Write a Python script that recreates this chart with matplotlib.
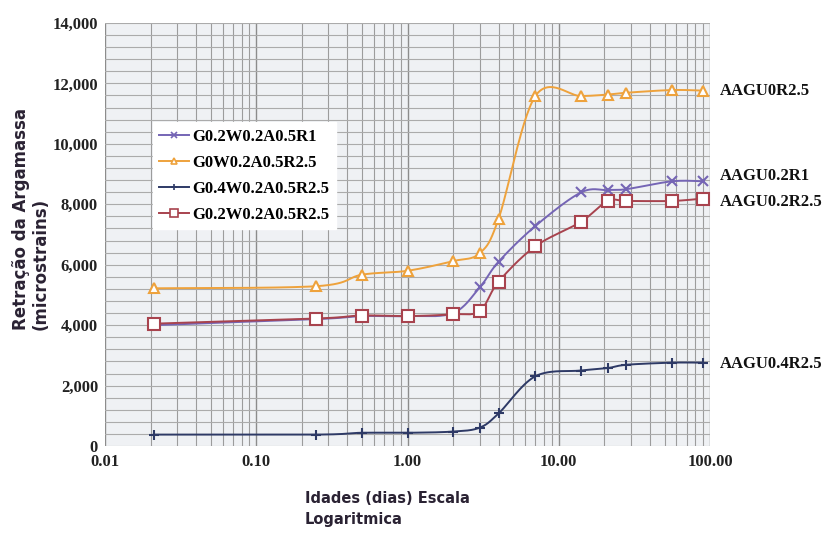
import numpy as np
import matplotlib
matplotlib.use('Agg')
import matplotlib.pyplot as plt
from matplotlib.ticker import FixedLocator, MultipleLocator, LogLocator, NullFormatter

# Idades (dias)
idades = [0.021, 0.25, 0.5, 1, 2, 3, 4, 7, 14, 21, 28, 56, 90]

# Retração (microstrains) por mistura
g02_r1 = [4000, 4200, 4300, 4300, 4400, 5250, 6100, 7280, 8390, 8470, 8500, 8760, 8760]
g0_r25 = [5220, 5290, 5670, 5800, 6120, 6380, 7520, 11580, 11580, 11630, 11690, 11780, 11760]
g04_r25 = [380, 380, 440, 440, 480, 610, 1080, 2310, 2500, 2580, 2690, 2760, 2760]
g02_r25 = [4050, 4220, 4320, 4300, 4360, 4470, 5440, 6610, 7420, 8110, 8110, 8110, 8190]

nomes = ['G0.2W0.2A0.5R1', 'G0W0.2A0.5R2.5', 'G0.4W0.2A0.5R2.5', 'G0.2W0.2A0.5R2.5']
rotulos = ['AAGU0.2R1', 'AAGU0R2.5', 'AAGU0.4R2.5', 'AAGU0.2R2.5']
yticks = [0, 2000, 4000, 6000, 8000, 10000, 12000, 14000]
xticks = [0.01, 0.1, 1, 10, 100]


def suavizar(x, y, n=30):
    # curva suave tipo Excel (Catmull-Rom em espaço de pixels aproximado)
    u = np.log10(np.array(x, dtype=float)) * 150.0
    v = np.array(y, dtype=float) / 33.3
    p = np.column_stack([u, v])
    p = np.vstack([p[0], p, p[-1]])
    xs, ys = [], []
    t = np.linspace(0, 1, n)[:, None]
    for i in range(1, len(p) - 2):
        p0, p3 = p[i], p[i + 1]
        p1 = p0 + (p[i + 1] - p[i - 1]) / 6.0
        p2 = p3 - (p[i + 2] - p[i]) / 6.0
        b = ((1 - t) ** 3) * p0 + 3 * ((1 - t) ** 2) * t * p1 + 3 * (1 - t) * t ** 2 * p2 + t ** 3 * p3
        xs.append(b[:, 0])
        ys.append(b[:, 1])
    xs = np.concatenate(xs)
    ys = np.concatenate(ys)
    return 10 ** (xs / 150.0), ys * 33.3


fig = plt.figure(figsize=(8.24, 5.46), dpi=100)
ax = fig.add_axes([0.1274, 0.183, 0.7343, 0.775])
ax.set_facecolor('#eff1f4')

series = [
    (g02_r1, '#7565b5', 'x', 7, 'none', 3),
    (g0_r25, '#eea23c', '^', 7, 'white', 3),
    (g04_r25, '#2e3a66', '+', 7, 'none', 3),
    (g02_r25, '#a8434e', 's', 8, 'white', 4),
]
handles = []
for (dados, cor, mk, ms, fc, z), nome in zip(series, nomes):
    xs, ys = suavizar(idades, dados)
    ax.plot(xs, ys, color=cor, linewidth=1.4, zorder=z)
    ax.plot(idades, dados, linestyle='none', marker=mk, markersize=ms,
            markerfacecolor=fc, markeredgecolor=cor, markeredgewidth=1.5, zorder=z + 0.5)
    h, = ax.plot([], [], color=cor, linewidth=1.4, marker=mk, markersize=ms - 2,
                 markerfacecolor=fc, markeredgecolor=cor, markeredgewidth=1.2)
    handles.append(h)

ax.set_xscale('log')
ax.set_xlim(0.01, 100)
ax.set_ylim(0, 14000)

ax.xaxis.set_major_locator(FixedLocator(xticks))
ax.xaxis.set_minor_locator(LogLocator(base=10, subs=np.arange(2, 10)))
ax.xaxis.set_minor_formatter(NullFormatter())
ax.set_xticks(xticks)
ax.set_xticklabels(['%.2f' % v for v in xticks])
ax.yaxis.set_major_locator(FixedLocator(yticks))
ax.yaxis.set_minor_locator(MultipleLocator(400))
ax.set_yticklabels(['{:,}'.format(v) for v in yticks])

ax.grid(which='major', axis='x', color='#8c8c8c', linewidth=1.0)
ax.grid(which='minor', axis='x', color='#9c9c9c', linewidth=0.8)
ax.grid(which='both', axis='y', color='#ababab', linewidth=0.8)
ax.set_axisbelow(True)

ax.tick_params(which='both', length=0)
ax.tick_params(axis='x', pad=6)
ax.tick_params(axis='y', pad=5)
for lab in ax.get_xticklabels() + ax.get_yticklabels():
    lab.set_fontfamily('Liberation Serif')
    lab.set_fontweight('bold')
    lab.set_fontsize(12)
    lab.set_color('#222222')
for s in ax.spines.values():
    s.set_visible(False)

leg = ax.legend(handles, nomes, loc='upper left', bbox_to_anchor=(0.079, 0.766),
                prop={'family': 'Liberation Serif', 'weight': 'bold', 'size': 12},
                frameon=True, fancybox=False, framealpha=1, edgecolor='white',
                handlelength=1.8, handletextpad=0.15, labelspacing=0.6,
                borderpad=0.4, borderaxespad=0)

# rótulos à direita
ult = [g02_r1[-1] + 170, g0_r25[-1] - 20, g04_r25[-1] - 60, g02_r25[-1] - 120]
for txt, yv in zip(rotulos, ult):
    ax.annotate(txt, xy=(1.0, yv), xycoords=('axes fraction', 'data'),
                xytext=(7, 0), textcoords='offset points', va='center', ha='left',
                fontfamily='Liberation Serif', fontweight='bold', fontsize=12, color='#111111')

fig.text(0.014, 1 - 330 / 546, 'Retração da Argamassa\n(microstrains)', rotation=90,
         ha='left', va='bottom', multialignment='left', fontsize=12, fontweight='bold',
         family='DejaVu Sans', color='#2a2233', linespacing=1.15)
fig.text(305 / 824, 1 - 491 / 546, 'Idades (dias) Escala\nLogaritmica', ha='left', va='top',
         fontsize=10.5, fontweight='bold', family='DejaVu Sans', color='#2a2233', linespacing=1.5)

plt.savefig('out.png', dpi=100)
